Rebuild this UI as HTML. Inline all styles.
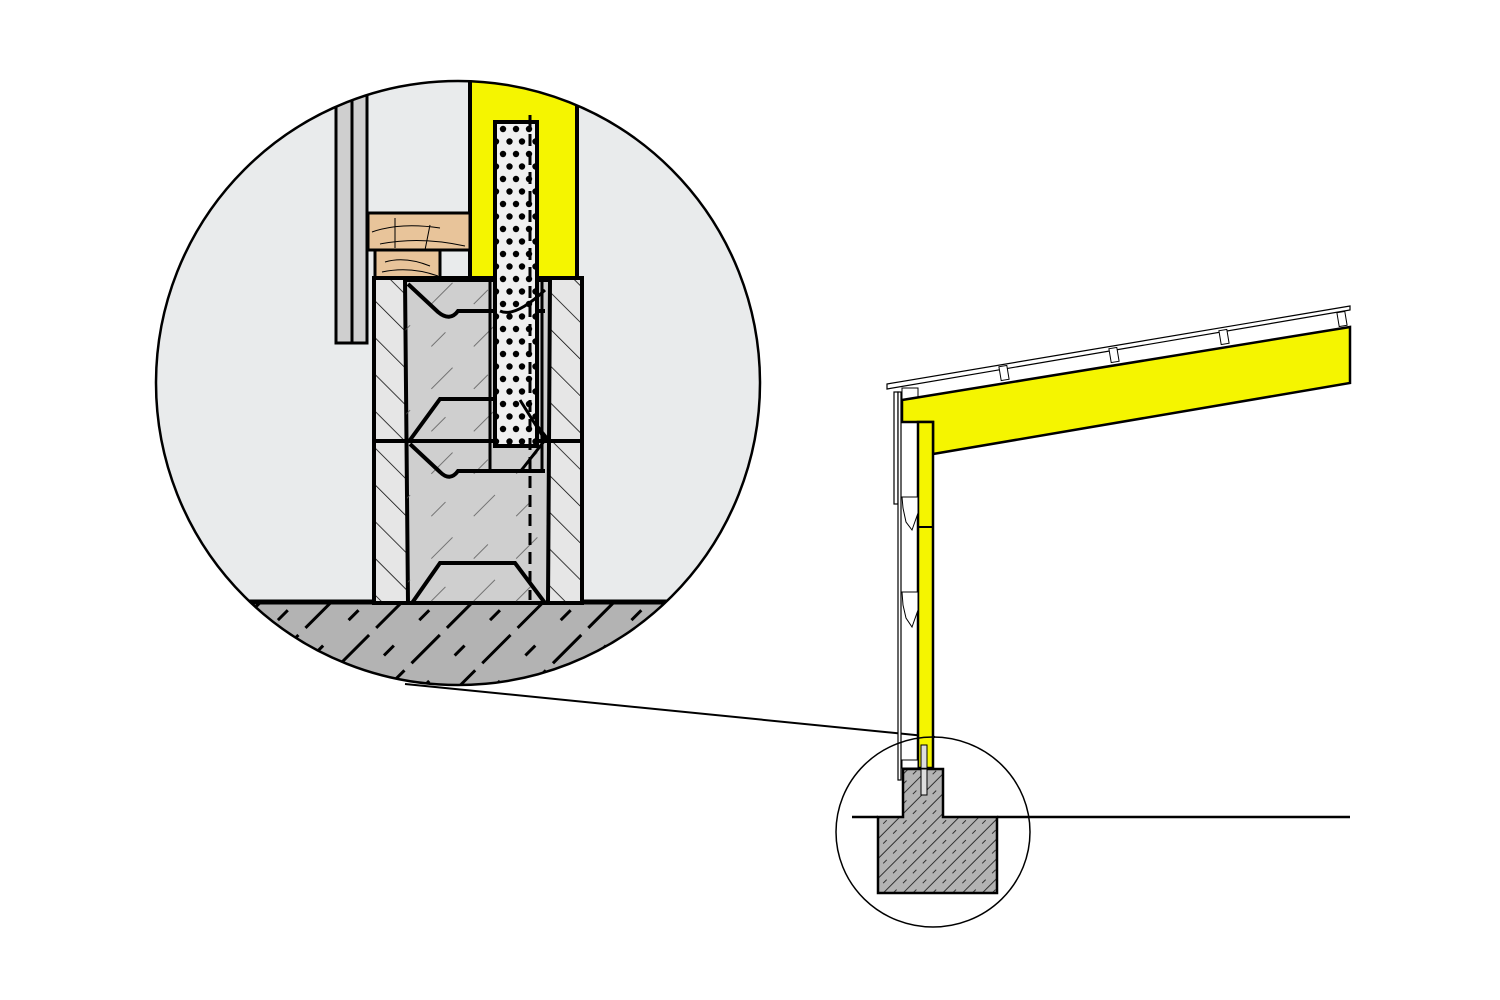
<!DOCTYPE html>
<html><head><meta charset="utf-8"><style>html,body{margin:0;padding:0;background:#fff}svg{display:block}</style></head>
<body>
<svg width="1500" height="1000" viewBox="0 0 1500 1000" xmlns="http://www.w3.org/2000/svg">
<defs>
<clipPath id="cc"><circle cx="458" cy="383" r="302"/></clipPath>
<pattern id="hatchL" width="26" height="26" patternUnits="userSpaceOnUse" patternTransform="rotate(-45)">
<line x1="0" y1="0" x2="0" y2="26" stroke="#000" stroke-width="1.5"/></pattern>
<pattern id="dots" width="26" height="25" patternUnits="userSpaceOnUse" x="496" y="122">
<circle cx="7" cy="7" r="3.2" fill="#000"/><circle cx="20" cy="7" r="3.2" fill="#000"/><circle cx="13.5" cy="19.5" r="3.2" fill="#000"/><circle cx="0" cy="19.5" r="3.2" fill="#000"/><circle cx="26" cy="19.5" r="3.2" fill="#000"/></pattern>
<pattern id="ch" width="14" height="14" patternUnits="userSpaceOnUse" patternTransform="rotate(-45)">
<line x1="0" y1="3" x2="5" y2="3" stroke="#222" stroke-width="0.9"/><line x1="0" y1="10" x2="14" y2="10" stroke="#222" stroke-width="0.9"/></pattern>
<pattern id="bh" width="60" height="60" patternUnits="userSpaceOnUse" patternTransform="rotate(-45)">
<line x1="0" y1="10" x2="20" y2="10" stroke="#555" stroke-width="0.8"/><line x1="30" y1="40" x2="60" y2="40" stroke="#555" stroke-width="0.8"/></pattern>
<pattern id="gh" width="50" height="50" patternUnits="userSpaceOnUse" patternTransform="rotate(-45)">
<line x1="0" y1="10" x2="12" y2="10" stroke="#000" stroke-width="3"/><line x1="22" y1="10" x2="50" y2="10" stroke="#000" stroke-width="3"/><line x1="8" y1="35" x2="22" y2="35" stroke="#000" stroke-width="3"/></pattern>
</defs>

<circle cx="458" cy="383" r="302" fill="#e9ebec"/>
<g clip-path="url(#cc)">
 <rect x="150" y="602" width="620" height="100" fill="#b3b3b3"/>
 <rect x="150" y="602" width="620" height="100" fill="url(#gh)"/>
 <line x1="150" y1="602" x2="770" y2="602" stroke="#000" stroke-width="5"/>
 <rect x="470" y="70" width="107" height="208" fill="#f5f500" stroke="#000" stroke-width="4"/>
 <rect x="336" y="60" width="16" height="283" fill="#cfcfcf" stroke="#000" stroke-width="3"/>
 <rect x="352" y="60" width="15" height="283" fill="#cfcfcf" stroke="#000" stroke-width="3"/>
 <rect x="368" y="213" width="102" height="37" fill="#e8c49a" stroke="#000" stroke-width="3"/>
 <rect x="375" y="250" width="65" height="28" fill="#e8c49a" stroke="#000" stroke-width="3"/>
 <path d="M372 232 Q400 222 440 228 M380 244 Q420 236 465 246 M395 218 L395 248 M430 225 L425 250 M385 262 Q405 256 430 266 M382 272 Q410 266 438 276" stroke="#000" stroke-width="1" fill="none"/>
 <rect x="374" y="278" width="208" height="325" fill="#e6e6e6" stroke="#000" stroke-width="4"/>
 <rect x="374" y="278" width="33" height="325" fill="url(#hatchL)"/>
 <rect x="550" y="278" width="32" height="325" fill="url(#hatchL)"/>
 <path d="M405 280 L550 280 L548 603 L408 603 Z" fill="#cfcfcf" stroke="#000" stroke-width="4"/>
 <path d="M405 280 L550 280 L548 603 L408 603 Z" fill="url(#bh)"/>
 <line x1="374" y1="441" x2="582" y2="441" stroke="#000" stroke-width="4"/>
 <path d="M408 284 L438 312 Q450 322 458 311 L545 311" stroke="#000" stroke-width="4" fill="none"/>
 <path d="M410 440 L440 399 L515 399 L548 440" stroke="#000" stroke-width="4" fill="none"/>
 <path d="M410 444 L440 472 Q450 482 458 471 L545 471" stroke="#000" stroke-width="4" fill="none"/>
 <path d="M412 603 L440 563 L515 563 L545 603" stroke="#000" stroke-width="4" fill="none"/>
 <line x1="490" y1="280" x2="490" y2="472" stroke="#000" stroke-width="3"/>
 <line x1="542" y1="280" x2="542" y2="472" stroke="#000" stroke-width="3"/>
 <rect x="495" y="122" width="42" height="324" fill="#f0f0f0" stroke="#000" stroke-width="4"/>
 <rect x="497" y="124" width="38" height="320" fill="url(#dots)"/>
 <path d="M500 311 Q515 318 545 290 M520 400 L545 440 L520 472" stroke="#000" stroke-width="3" fill="none"/>
 <line x1="530" y1="115" x2="530" y2="600" stroke="#000" stroke-width="3" stroke-dasharray="12,7"/>
</g>
<circle cx="458" cy="383" r="302" fill="none" stroke="#000" stroke-width="2.5"/>

<line x1="405" y1="684" x2="935" y2="737" stroke="#000" stroke-width="2"/>

<polygon points="887,384 1350,306 1350,310 887,389" fill="#fff" stroke="#000" stroke-width="1.2"/>
<g stroke="#000" stroke-width="1" fill="#fff">
<rect x="1000" y="366" width="8" height="14" transform="rotate(-9.5 1004 373)"/>
<rect x="1110" y="348" width="8" height="14" transform="rotate(-9.5 1114 355)"/>
<rect x="1220" y="330" width="8" height="14" transform="rotate(-9.5 1224 337)"/>
<rect x="1338" y="312" width="8" height="14" transform="rotate(-9.5 1342 319)"/>
<rect x="902" y="388" width="16" height="12"/>
</g>
<polygon points="902,400 1350,327 1350,383 933,454 933,422 902,422" fill="#f5f500" stroke="#000" stroke-width="2.5"/>
<rect x="918" y="422" width="15" height="346" fill="#f5f500" stroke="#000" stroke-width="2.5"/>
<line x1="918" y1="527" x2="933" y2="527" stroke="#000" stroke-width="2"/>
<rect x="921" y="745" width="6" height="50" fill="#ddd" stroke="#000" stroke-width="1"/>
<rect x="894" y="392" width="4" height="112" fill="#fff" stroke="#000" stroke-width="1.2"/>
<rect x="898" y="392" width="3" height="388" fill="#fff" stroke="#000" stroke-width="1.2"/>
<g stroke="#000" stroke-width="1" fill="#fff">
<path d="M902 497 L918 497 L918 513 L912 530 L906 522 L903 508 Z"/>
<path d="M902 592 L918 592 L918 610 L912 627 L906 618 L903 605 Z"/>
<rect x="902" y="760" width="16" height="8"/>
</g>
<path d="M878 817 L903 817 L903 769 L943 769 L943 817 L997 817 L997 893 L878 893 Z" fill="#b3b3b3"/>
<path d="M878 817 L903 817 L903 769 L943 769 L943 817 L997 817 L997 893 L878 893 Z" fill="url(#ch)"/>
<path d="M878 817 L903 817 L903 769 L943 769 L943 817 L997 817 L997 893 L878 893 Z" fill="none" stroke="#000" stroke-width="2.5"/>
<rect x="921" y="769" width="6" height="26" fill="#ddd" stroke="#000" stroke-width="1"/>
<line x1="852" y1="817" x2="878" y2="817" stroke="#000" stroke-width="2.5"/>
<line x1="997" y1="817" x2="1350" y2="817" stroke="#000" stroke-width="2.5"/>
<ellipse cx="933" cy="832" rx="97" ry="95" fill="none" stroke="#000" stroke-width="1.5"/>
</svg>
</body></html>
